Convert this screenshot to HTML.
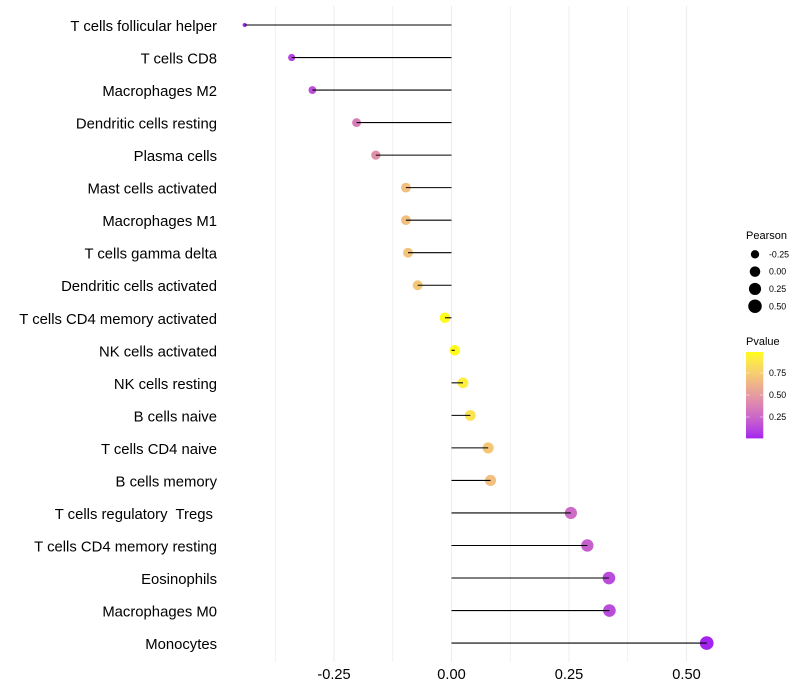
<!DOCTYPE html>
<html>
<head>
<meta charset="utf-8">
<title>Lollipop chart of immune cell correlation</title>
<style>
html,body{margin:0;padding:0;background:#fff;}
svg{display:block;font-family:"Liberation Sans",Arial,sans-serif;}
text{white-space:pre;}
</style>
</head>
<body>
<svg id="chart" width="800" height="700" viewBox="0 0 800 700" xmlns="http://www.w3.org/2000/svg">
<defs><linearGradient id="pv-grad" x1="0" y1="1" x2="0" y2="0"></linearGradient></defs>
<rect x="0" y="0" width="800" height="700" fill="#ffffff"/>
<g id="grid"></g>
<g id="points"></g>
<g id="stems"></g>
<g id="ylabels"></g>
<g id="xlabels"></g>
<g id="size-legend"></g>
<g id="color-legend"></g>
</svg>
<script>
const categories = ["T cells follicular helper","T cells CD8","Macrophages M2","Dendritic cells resting","Plasma cells","Mast cells activated","Macrophages M1","T cells gamma delta","Dendritic cells activated","T cells CD4 memory activated","NK cells activated","NK cells resting","B cells naive","T cells CD4 naive","B cells memory","T cells regulatory  Tregs ","T cells CD4 memory resting","Eosinophils","Macrophages M0","Monocytes"];
const pearson = [-0.44,-0.34,-0.296,-0.202,-0.161,-0.097,-0.097,-0.0925,-0.072,-0.014,0.007,0.0245,0.04,0.078,0.083,0.254,0.289,0.335,0.336,0.543];
const pvalue = [0.03,0.1,0.15,0.35,0.45,0.68,0.68,0.7,0.72,0.98,0.98,0.92,0.86,0.72,0.68,0.27,0.22,0.14,0.14,0.01];
const xTicks = [-0.25,0,0.25,0.5];
const xTickLabels = ["-0.25","0.00","0.25","0.50"];
const xMinorTicks = [-0.375,-0.125,0.125,0.375];
const sizeLegendValues = [-0.25,0,0.25,0.5];
const sizeLegendLabels = ["-0.25","0.00","0.25","0.50"];
const colorLegendValues = [0.25,0.5,0.75];
const colorLegendLabels = ["0.25","0.50","0.75"];

const NS = "http://www.w3.org/2000/svg";
function make(tag, parent, attrs, text) {
  const el = document.createElementNS(NS, tag);
  for (const k in attrs) el.setAttribute(k, attrs[k]);
  if (text !== undefined) el.textContent = text;
  parent.appendChild(el);
  return el;
}
const xScale = v => 451.5 + v * 470;
const yScale = i => 25 + i * 32.53;
const pMin = Math.min(...pearson), pMax = Math.max(...pearson);
const rScale = v => 2.1 + 4.75 * Math.sqrt(Math.max(0, (v - pMin) / (pMax - pMin)));

function srgb2lab(c) {
  const l = c.map(x => { x /= 255; return x > 0.04045 ? Math.pow((x + 0.055) / 1.055, 2.4) : x / 12.92; });
  const X = (0.4124 * l[0] + 0.3576 * l[1] + 0.1805 * l[2]) / 0.95047;
  const Y = 0.2126 * l[0] + 0.7152 * l[1] + 0.0722 * l[2];
  const Z = (0.0193 * l[0] + 0.1192 * l[1] + 0.9505 * l[2]) / 1.08883;
  const f = t => t > 0.008856 ? Math.cbrt(t) : 7.787 * t + 16 / 116;
  return [116 * f(Y) - 16, 500 * (f(X) - f(Y)), 200 * (f(Y) - f(Z))];
}
function lab2srgb(L) {
  const fy = (L[0] + 16) / 116, fx = fy + L[1] / 500, fz = fy - L[2] / 200;
  const g = t => t * t * t > 0.008856 ? t * t * t : (t - 16 / 116) / 7.787;
  const X = g(fx) * 0.95047, Y = g(fy), Z = g(fz) * 1.08883;
  const r = [3.2406 * X - 1.5372 * Y - 0.4986 * Z, -0.9689 * X + 1.8758 * Y + 0.0415 * Z, 0.0557 * X - 0.204 * Y + 1.057 * Z];
  return "rgb(" + r.map(v => {
    v = Math.min(1, Math.max(0, v));
    v = v > 0.0031308 ? 1.055 * Math.pow(v, 1 / 2.4) - 0.055 : 12.92 * v;
    return Math.round(v * 255);
  }).join(",") + ")";
}
const labLow = srgb2lab([160, 32, 240]), labHigh = srgb2lab([255, 255, 0]);
const colorScale = p => lab2srgb(labLow.map((v, i) => v + (labHigh[i] - v) * p));

const grid = document.getElementById("grid");
xMinorTicks.forEach(v => {
  const l = make("line", grid, {x1: xScale(v), x2: xScale(v), y1: 6, y2: 662, stroke: "#ebebeb", "stroke-width": 0.7});
  
  
});
xTicks.forEach(v => {
  const l = make("line", grid, {x1: xScale(v), x2: xScale(v), y1: 6, y2: 662, stroke: "#eeeeee", "stroke-width": 1.07});
  
  
});

const pts = document.getElementById("points");
const stems = document.getElementById("stems");
const ylabels = document.getElementById("ylabels");
categories.forEach((name, i) => {
  const c = make("circle", pts, {cx: xScale(pearson[i]), cy: yScale(i), r: rScale(pearson[i]), fill: colorScale(pvalue[i])});
  
  
  const s = make("line", stems, {x1: xScale(0), x2: xScale(pearson[i]), y1: yScale(i), y2: yScale(i), stroke: "#000000", "stroke-width": 1.07});
  
  
  const t = make("text", ylabels, {x: 217, y: yScale(i) + 6, "text-anchor": "end", "font-size": 14.85, fill: "#000000"}, name);
  
  
});

const xlabels = document.getElementById("xlabels");
xTicks.forEach((v, i) => {
  const t = make("text", xlabels, {x: xScale(v), y: 679, "text-anchor": "middle", "font-size": 14.6, fill: "#000000"}, xTickLabels[i]);
  
  
});

const sizeLegend = document.getElementById("size-legend");
const sizeTitle = make("text", sizeLegend, {x: 746, y: 239, "font-size": 11, fill: "#000000"}, "Pearson");


sizeLegendValues.forEach((v, i) => {
  const y = 254.3 + i * 17.3;
  const c = make("circle", sizeLegend, {cx: 755, cy: y, r: rScale(v), fill: "#000000"});
  
  
  const t = make("text", sizeLegend, {x: 769, y: y + 3.1, "font-size": 8.8, fill: "#000000"}, sizeLegendLabels[i]);
  
  
});

const grad = document.getElementById("pv-grad");
const pTop = 0.989, pBottom = 0.011;
for (let k = 0; k <= 20; k++) {
  const p = pBottom + (pTop - pBottom) * k / 20;
  make("stop", grad, {offset: (k * 5) + "%", "stop-color": colorScale(p)});
}
const colorLegend = document.getElementById("color-legend");
const colorTitle = make("text", colorLegend, {x: 746, y: 345, "font-size": 11, fill: "#000000"}, "Pvalue");


const bar = make("rect", colorLegend, {x: 746, y: 352, width: 17.3, height: 86.4, fill: "url(#pv-grad)"});


const pvY = p => 395 - (p - 0.5) * 88;
colorLegendValues.forEach((v, i) => {
  const y = pvY(v);
  const a = make("line", colorLegend, {x1: 746, x2: 749.5, y1: y, y2: y, stroke: "#ffffff", "stroke-width": 0.5});
  
  
  const b = make("line", colorLegend, {x1: 759.8, x2: 763.3, y1: y, y2: y, stroke: "#ffffff", "stroke-width": 0.5});
  
  
  const t = make("text", colorLegend, {x: 769, y: y + 3.1, "font-size": 8.8, fill: "#000000"}, colorLegendLabels[i]);
  
  
});
</script>
</body>
</html>
